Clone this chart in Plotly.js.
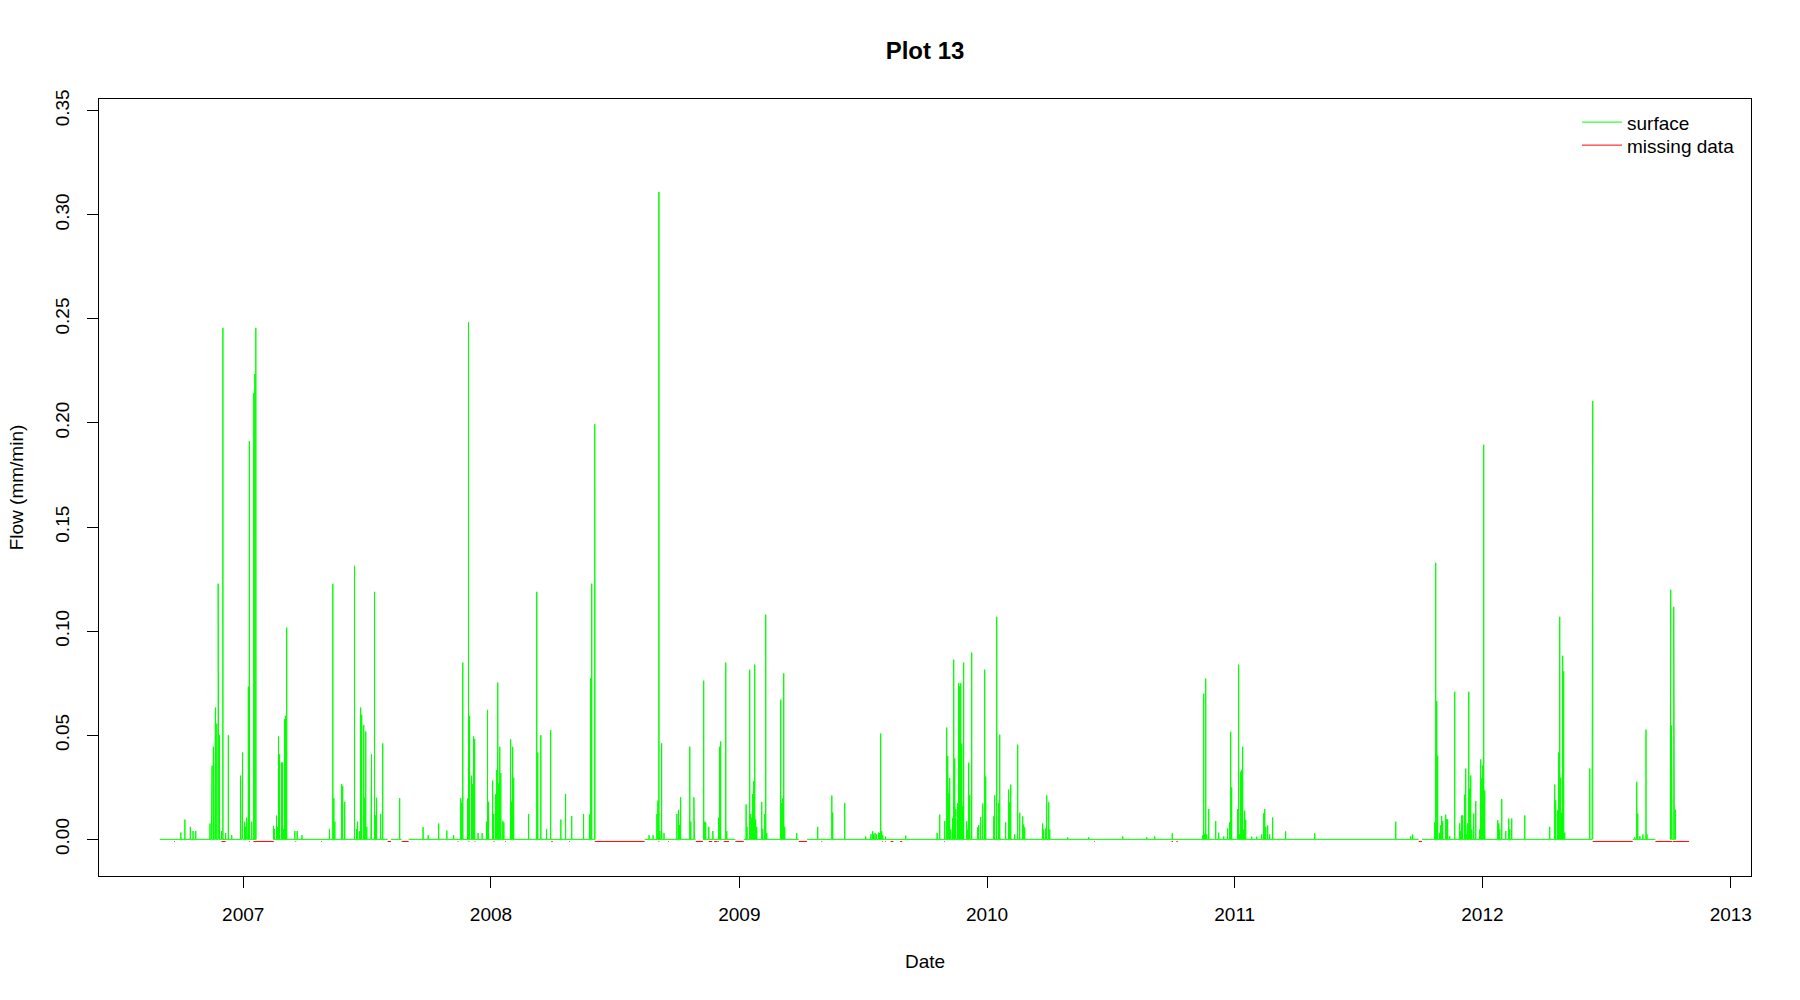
<!DOCTYPE html>
<html>
<head>
<meta charset="utf-8">
<script src="https://cdn.plot.ly/plotly-3.0.1.min.js"></script>
<style>html,body{margin:0;padding:0;background:#fff;}</style>
</head>
<body>
<div id="chart" style="width:1800px;height:1000px;"></div>
<script>
// ---- data ----
const recordStart = "2006-08-31";
const recordEnd = "2012-10-11 19:00";

const surfaceDates = [
"2006-10-01","2006-10-07","2006-10-15","2006-10-19","2006-10-23","2006-11-13","2006-11-15","2006-11-16","2006-11-18","2006-11-20","2006-11-21","2006-11-23","2006-11-25","2006-11-26","2006-11-27","2006-11-30","2006-12-02","2006-12-06","2006-12-10","2006-12-15","2006-12-28","2006-12-30","2006-12-31",
"2007-01-03","2007-01-04 12:00","2007-01-06","2007-01-07","2007-01-08 12:00","2007-01-10","2007-01-13 12:00","2007-01-16 12:00","2007-01-18","2007-01-19 12:00",
"2007-02-14 12:00","2007-02-16","2007-02-19","2007-02-20 12:00","2007-02-22","2007-02-23 12:00","2007-02-26 12:00","2007-02-28","2007-03-01 12:00","2007-03-03","2007-03-04 12:00","2007-03-06","2007-03-18","2007-03-21 12:00","2007-03-28 12:00",
"2007-05-08","2007-05-13","2007-05-14 12:00","2007-05-16","2007-05-26","2007-05-27 12:00","2007-05-30 12:00",
"2007-06-14","2007-06-17","2007-06-18 12:00","2007-06-21 12:00","2007-06-23","2007-06-24 12:00","2007-06-27 12:00","2007-06-29","2007-06-30 12:00","2007-07-02","2007-07-08","2007-07-09","2007-07-13 12:00","2007-07-15","2007-07-16 12:00","2007-07-22 12:00","2007-07-25 12:00",
"2007-08-19 12:00","2007-09-23","2007-09-30 12:00","2007-10-16","2007-10-28","2007-11-07","2007-11-17 12:00","2007-11-19","2007-11-20 12:00","2007-11-27 12:00","2007-11-29","2007-11-30 12:00","2007-12-03 12:00","2007-12-05","2007-12-06 12:00","2007-12-08","2007-12-13","2007-12-19","2007-12-25 12:00","2007-12-27","2007-12-28 12:00",
"2008-01-03 12:00","2008-01-05","2008-01-08","2008-01-09 12:00","2008-01-11","2008-01-12 12:00","2008-01-14","2008-01-15 12:00","2008-01-18 12:00","2008-01-20","2008-01-30","2008-01-31 12:00","2008-02-02","2008-02-03 12:00","2008-02-25 12:00","2008-03-08 12:00","2008-03-10","2008-03-14 12:00","2008-03-23","2008-03-29","2008-04-13","2008-04-20","2008-04-29","2008-05-16 12:00","2008-05-25 12:00","2008-05-27","2008-05-28 12:00","2008-06-02",
"2008-08-21","2008-08-27","2008-09-01 12:00","2008-09-03","2008-09-04 12:00","2008-09-06","2008-09-08 12:00","2008-09-12","2008-10-01","2008-10-03 12:00","2008-10-05","2008-10-06 12:00","2008-10-20","2008-10-21 12:00","2008-10-26","2008-10-27",
"2008-11-09 12:00","2008-11-11","2008-11-12 12:00","2008-11-17","2008-11-23","2008-12-01 12:00","2008-12-03","2008-12-04 12:00","2008-12-12","2008-12-13 12:00",
"2009-01-11","2009-01-12 10:00","2009-01-16 07:00","2009-01-17 19:00","2009-01-19 07:00","2009-01-20 17:00","2009-01-22 05:00","2009-01-23 17:00","2009-01-25 02:00","2009-01-26 14:00","2009-02-03","2009-02-04 12:00","2009-02-07 10:00","2009-02-08 22:00","2009-02-10 10:00","2009-03-03","2009-03-04 12:00","2009-03-06","2009-03-07 10:00","2009-03-08 22:00","2009-03-26 14:00",
"2009-04-26 12:00","2009-05-17 07:00","2009-05-18 14:00","2009-06-05 07:00","2009-07-06 05:00","2009-07-14","2009-07-16 12:00","2009-07-18","2009-07-20","2009-07-22","2009-07-25","2009-07-26 12:00","2009-07-28 07:00","2009-07-29 19:00","2009-07-31 07:00","2009-08-04 12:00","2009-09-03 05:00","2009-10-19 12:00","2009-10-23 07:00","2009-10-30 17:00","2009-11-02 14:00","2009-11-04 02:00","2009-11-05 12:00","2009-11-07","2009-11-08 12:00","2009-11-11 10:00","2009-11-12 22:00","2009-11-14 10:00","2009-11-15 22:00","2009-11-18 19:00","2009-11-20 07:00","2009-11-21 17:00","2009-11-23 05:00","2009-11-24 17:00","2009-11-26 05:00","2009-11-27 14:00","2009-12-02 02:00","2009-12-03 12:00","2009-12-05","2009-12-06 12:00","2009-12-09 10:00","2009-12-18 07:00","2009-12-19 19:00","2009-12-22 17:00","2009-12-25 17:00","2009-12-28 14:00","2009-12-30 02:00",
"2010-01-10 22:00","2010-01-12 07:00","2010-01-15 07:00","2010-01-18 05:00","2010-01-19 17:00","2010-01-28 12:00","2010-02-01 22:00","2010-02-03 10:00","2010-02-04 22:00","2010-02-10 19:00","2010-02-15 05:00","2010-02-18 05:00","2010-02-22 14:00","2010-02-24","2010-02-25 12:00","2010-03-24","2010-03-25 12:00","2010-03-28 12:00","2010-03-30","2010-04-01 22:00","2010-04-03 10:00","2010-04-29 22:00","2010-05-30 19:00","2010-07-20","2010-08-24 10:00","2010-09-05 02:00","2010-10-01","2010-11-14 19:00","2010-11-16 07:00","2010-11-17 19:00","2010-11-19 07:00","2010-11-20 19:00","2010-11-23 17:00","2010-12-04","2010-12-08 10:00","2010-12-15 19:00","2010-12-21 14:00","2010-12-24 14:00","2010-12-26 02:00","2010-12-27 12:00",
"2011-01-05 10:00","2011-01-06 19:00","2011-01-08 07:00","2011-01-09 19:00","2011-01-11 07:00","2011-01-12 17:00","2011-01-14 05:00","2011-01-15 17:00","2011-01-17 05:00","2011-01-26","2011-02-02 10:00","2011-02-09 19:00","2011-02-12 17:00","2011-02-14 05:00","2011-02-15 17:00","2011-02-18 14:00","2011-02-21 12:00","2011-02-25 22:00","2011-03-17 02:00","2011-04-28 22:00","2011-08-26 07:00","2011-09-17 07:00","2011-09-20 07:00",
"2011-10-22 17:00","2011-10-24 05:00","2011-10-25 17:00","2011-10-27 02:00","2011-10-30","2011-10-31 12:00","2011-11-02","2011-11-03 10:00","2011-11-07 22:00","2011-11-09 10:00","2011-11-10 19:00","2011-11-13 19:00","2011-11-21 05:00","2011-11-28 14:00","2011-11-30 02:00","2011-12-01 12:00","2011-12-03","2011-12-05 22:00","2011-12-07 10:00","2011-12-08 22:00","2011-12-10 10:00","2011-12-11 22:00","2011-12-13 07:00","2011-12-14 19:00","2011-12-16 07:00","2011-12-19 05:00","2011-12-22 05:00","2011-12-28 02:00","2011-12-29 12:00","2011-12-31",
"2012-01-01 12:00","2012-01-02 22:00","2012-01-04 10:00","2012-01-23 14:00","2012-01-25 02:00","2012-01-26 12:00","2012-01-29 12:00","2012-02-04 10:00","2012-02-08 19:00","2012-02-10 07:00","2012-02-13 05:00","2012-03-03 10:00","2012-04-09 05:00","2012-04-16 14:00","2012-04-18","2012-04-20 22:00","2012-04-22 10:00","2012-04-23 22:00","2012-04-25 10:00","2012-04-26 19:00","2012-04-28 07:00","2012-04-29 19:00","2012-05-01 07:00","2012-06-07 05:00","2012-06-10 14:00","2012-06-11 14:00",
"2012-08-12 12:00","2012-08-15 10:00","2012-08-16 22:00","2012-08-20","2012-08-24 12:00","2012-08-29 02:00","2012-08-30 12:00",
"2012-10-04","2012-10-04 12:00","2012-10-05 12:00","2012-10-06 12:00","2012-10-08 22:00","2012-10-09 22:00","2012-10-11 07:00"
];

const surfaceFlows = [
0.0033,0.0095,0.006,0.004,0.004,0.0076,0.0122,0.0354,0.0445,0.0076,0.0633,0.0556,0.1228,0.054,0.050,0.004,0.2457,0.003,0.050,0.002,0.0306,0.0299,0.0417,
0.0085,0.006,0.0104,0.0098,0.0734,0.1913,0.0085,0.2145,0.2235,0.2457,
0.0065,0.005,0.0114,0.006,0.0494,0.0408,0.0369,0.0369,0.005,0.0578,0.0593,0.1017,0.004,0.004,0.002,
0.005,0.1228,0.0198,0.0085,0.0265,0.0255,0.018,
0.1314,0.005,0.0085,0.004,0.0633,0.0598,0.055,0.020,0.0518,0.006,0.0123,0.0408,0.1189,0.0115,0.020,0.0122,0.0461,
0.0198,0.0059,0.002,0.0076,0.0042,0.002,0.0198,0.0175,0.0849,0.0197,0.2483,0.0593,0.0306,0.0265,0.0494,0.0482,0.003,0.003,0.0085,0.0622,0.018,
0.0282,0.0122,0.0217,0.0333,0.0753,0.0268,0.0445,0.0318,0.0089,0.008,0.0481,0.018,0.0445,0.0296,0.0122,0.1189,0.0417,0.050,0.005,0.0525,0.0095,0.0218,0.0112,0.0122,0.012,0.0774,0.1228,0.1994,
0.002,0.002,0.0122,0.0186,0.311,0.004,0.0461,0.003,0.0122,0.0142,0.007,0.0202,0.0445,0.0085,0.0202,0.0098,
0.0762,0.0085,0.0081,0.006,0.004,0.0104,0.0445,0.047,0.0849,0.004,
0.0168,0.006,0.0815,0.0122,0.0104,0.0218,0.028,0.0839,0.0095,0.006,0.018,0.005,0.0122,0.1079,0.003,0.0671,0.0174,0.0198,0.0797,0.006,0.003,
0.006,0.021,0.0128,0.0175,0.0014,0.0025,0.0039,0.0024,0.003,0.0024,0.0032,0.003,0.0508,0.0039,0.002,0.0013,0.0018,0.003,0.0119,0.0088,0.0537,0.040,0.0224,0.0295,0.0047,0.0103,0.0863,0.0388,0.0146,0.0174,0.0751,0.0735,0.075,0.0459,0.0159,0.0849,0.0088,0.0047,0.0368,0.0213,0.0897,0.0058,0.0068,0.0107,0.0172,0.0815,0.0302,
0.011,0.0211,0.1069,0.0175,0.0503,0.0082,0.0239,0.0178,0.0263,0.0024,0.0455,0.0128,0.011,0.0071,0.0057,0.0076,0.0047,0.0052,0.0211,0.0178,0.0047,0.001,0.001,0.0014,0.001,0.0014,0.0029,0.0019,0.070,0.0027,0.0772,0.0024,0.0146,0.0088,0.0032,0.0014,0.0052,0.0082,0.0517,0.0249,
0.0146,0.0839,0.0024,0.0325,0.0334,0.0445,0.0047,0.0138,0.0094,0.0013,0.0013,0.0024,0.0125,0.0146,0.006,0.0067,0.0024,0.0105,0.0038,0.0029,0.0085,0.0014,0.0023,
0.0082,0.1328,0.0664,0.0402,0.0032,0.0067,0.0112,0.0088,0.0119,0.0096,0.0096,0.0016,0.0709,0.0077,0.004,0.0115,0.0115,0.0215,0.034,0.0024,0.0077,0.0709,0.0243,0.0307,0.0048,0.0124,0.0184,0.0048,0.0384,0.0293,
0.0355,0.1895,0.0235,0.0092,0.0076,0.0048,0.0194,0.004,0.01,0.0048,0.01,0.0115,0.006,0.0263,0.0188,0.014,0.0417,0.1069,0.0296,0.0128,0.0882,0.0807,0.0032,0.034,0.0604,0.2106,
0.001,0.0277,0.0125,0.0015,0.0024,0.0527,0.0024,
0.0359,0.1199,0.0546,0.0024,0.1117,0.0505,0.0143
];

// periods with no surface record (line is broken there)
const surfaceBreakStart = ["2007-01-19 18:00","2007-08-01 18:00","2007-08-22 10:00","2008-06-02 06:00","2008-10-28 17:00","2008-12-26 05:00","2009-03-29 12:00","2011-09-29","2012-06-11 20:00","2012-09-11 22:00"];
const surfaceBreakEnd   = ["2007-02-14 12:00","2007-08-06 18:00","2007-09-01 18:00","2008-08-14 12:00","2008-11-08 12:00","2009-01-07 12:00","2009-04-10 19:00","2011-10-04","2012-08-09 12:00","2012-10-04"];

// missing-data periods (drawn in red just below zero)
const missingStart = ["2006-09-21","2006-11-30","2007-01-10","2007-01-16","2007-03-19","2007-04-26","2007-08-01 18:00","2007-08-22 10:00","2007-11-13","2007-11-29","2007-12-08","2008-01-05","2008-01-22","2008-03-30","2008-04-25","2008-06-02","2008-09-04","2008-09-18","2008-10-28 17:00","2008-11-17","2008-11-25","2008-12-01","2008-12-09","2008-12-26 05:00","2009-03-29 12:00","2009-05-02","2009-07-30","2009-08-04","2009-08-12","2009-08-26","2009-10-30","2010-06-08","2010-09-30","2010-10-07","2011-09-29","2012-06-11 14:00","2012-09-11 22:00","2012-10-07 10:00"];
const missingEnd   = ["2006-09-22","2006-12-06","2007-01-11","2007-02-15","2007-03-20","2007-04-27","2007-08-06 18:00","2007-09-01 18:00","2007-11-14","2007-11-30","2007-12-09","2008-01-06","2008-01-23","2008-04-01","2008-04-26","2008-08-14 12:00","2008-09-05","2008-09-19","2008-11-08 12:00","2008-11-22","2008-11-30","2008-12-02","2008-12-16 19:00","2009-01-07 12:00","2009-04-10 19:00","2009-05-03","2009-07-31","2009-08-05","2009-08-16","2009-08-29","2009-10-31","2010-06-09","2010-10-02","2010-10-09","2011-10-04","2012-08-09 12:00","2012-10-06 12:00","2012-10-31 14:00"];
const missingLevel = -0.001;

const yearTicks = ["2007-01-01","2008-01-01","2009-01-01","2010-01-01","2011-01-01","2012-01-01","2013-01-01"];
const yearLabels = ["2007","2008","2009","2010","2011","2012","2013"];
const flowTicks = [0,0.05,0.10,0.15,0.20,0.25,0.30,0.35];
const flowLabels = ["0.00","0.05","0.10","0.15","0.20","0.25","0.30","0.35"];

// ---- build traces ----
function ms(s){ const p = s.split(' '); return Date.parse(p[0] + 'T' + (p[1] || '00:00') + ':00Z'); }

const sx = [recordStart], sy = [0];
let bi = 0;
function pushBreak(){
  sx.push(surfaceBreakStart[bi]); sy.push(0);
  sx.push(null); sy.push(null);
  sx.push(surfaceBreakEnd[bi]); sy.push(0);
  bi++;
}
for (let i = 0; i < surfaceDates.length; i++) {
  const d = surfaceDates[i];
  while (bi < surfaceBreakStart.length && ms(surfaceBreakStart[bi]) < ms(d)) pushBreak();
  sx.push(d, d, d); sy.push(0, surfaceFlows[i], 0);
}
while (bi < surfaceBreakStart.length) pushBreak();
sx.push(recordEnd); sy.push(0);

const mx = [], my = [];
for (let i = 0; i < missingStart.length; i++) {
  mx.push(missingStart[i], missingEnd[i], null);
  my.push(missingLevel, missingLevel, null);
}

const font = '"Liberation Sans", Arial, Helvetica, sans-serif';

const traces = [
  {type:'scatter', mode:'lines', name:'surface', x:sx, y:sy, connectgaps:false,
   line:{color:'#00FF00', width:1}, hoverinfo:'skip', legend:'legend'},
  {type:'scatter', mode:'lines', name:'missing data', x:mx, y:my, connectgaps:false,
   line:{color:'#FF0000', width:1}, hoverinfo:'skip', legend:'legend2'}
];

const legendBase = {xanchor:'left', yanchor:'top', bgcolor:'rgba(0,0,0,0)',
  borderwidth:0, itemwidth:40, font:{family:font, size:19, color:'#000000'}};

const layout = {
  width:1800, height:1000,
  margin:{l:99, r:49, t:99, b:124, pad:0},
  paper_bgcolor:'#ffffff', plot_bgcolor:'#ffffff',
  font:{family:font, size:19, color:'#000000'},
  title:{text:'<b>Plot 13</b>', font:{family:font, size:24, color:'#000000'},
         x:0.5, xref:'paper', xanchor:'center', y:0.9495, yref:'container', yanchor:'middle'},
  xaxis:{type:'date', range:['2006-06-02 10:00','2013-01-30 19:00'],
         tickmode:'array', tickvals:yearTicks, ticktext:yearLabels,
         ticks:'outside', ticklen:11, tickwidth:1, tickcolor:'#000000',
         showline:true, mirror:true, linecolor:'#000000', linewidth:1,
         showgrid:false, zeroline:false, ticklabelstandoff:10,
         tickfont:{family:font, size:19, color:'#000000'},
         title:{text:'Date', font:{family:font, size:19, color:'#000000'}, standoff:30}},
  yaxis:{range:[-0.0176, 0.3556],
         tickmode:'array', tickvals:flowTicks, ticktext:flowLabels, tickangle:-90,
         ticks:'outside', ticklen:11, tickwidth:1, tickcolor:'#000000',
         showline:true, mirror:true, linecolor:'#000000', linewidth:1,
         showgrid:false, zeroline:false, ticklabelstandoff:10,
         tickfont:{family:font, size:19, color:'#000000'},
         title:{text:'Flow (mm/min)', font:{family:font, size:19, color:'#000000'}, standoff:23}},
  legend:Object.assign({x:0.8947, y:0.9945}, legendBase),
  legend2:Object.assign({x:0.8947, y:0.9649}, legendBase),
  showlegend:true
};

Plotly.newPlot('chart', traces, layout, {displayModeBar:false, staticPlot:true});
</script>
</body>
</html>
